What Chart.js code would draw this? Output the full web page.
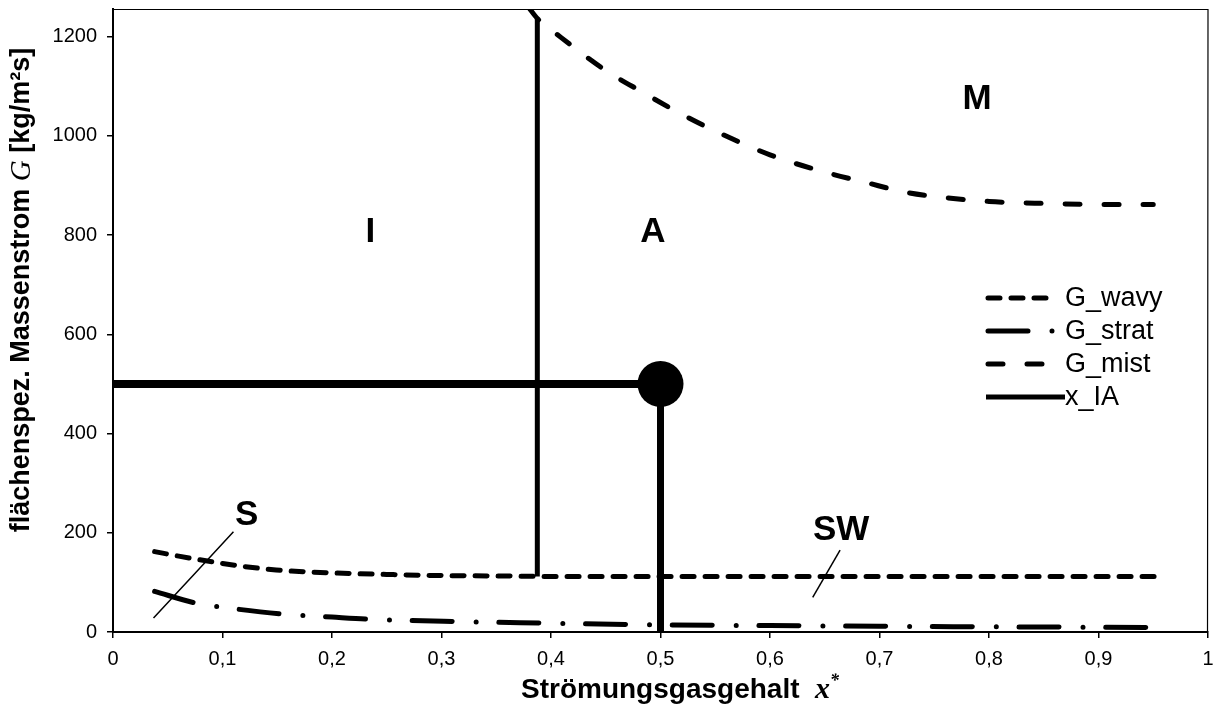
<!DOCTYPE html>
<html><head><meta charset="utf-8">
<script src="https://cdn.jsdelivr.net/npm/chart.js@4/dist/chart.umd.min.js"></script>
<style>html,body{margin:0;padding:0;background:#fff;overflow:hidden}canvas{display:block}</style>
</head><body>
<canvas id="c" width="1214" height="709"></canvas>
<script>
// ---- data ----
const seriesNames = ['G_wavy', 'G_strat', 'G_mist', 'x_IA'];

const wavyX = [0.038, 0.06, 0.089, 0.12, 0.149, 0.18, 0.216, 0.25, 0.292, 0.35, 0.4, 0.5, 0.6, 0.7, 0.8, 0.9, 0.955];
const wavyG = [162, 153, 142, 132, 125, 121, 118, 116, 114, 113, 112, 112, 112, 112, 112, 112, 112];

const stratX = [0.038, 0.076, 0.1, 0.155, 0.2, 0.232, 0.314, 0.393, 0.51, 0.6, 0.7, 0.8, 0.9, 0.945];
const stratG = [82, 58, 50, 36, 30, 26, 21, 18, 14, 13, 11.5, 10.5, 9.5, 9];

const mistX = [0.38, 0.3875, 0.406, 0.45, 0.483, 0.515, 0.55, 0.6, 0.652, 0.688, 0.723, 0.755, 0.8, 0.85, 0.9, 0.95];
const mistG = [1258, 1237, 1204, 1132, 1089, 1049, 1010, 962, 926, 906, 887, 877, 868, 864, 862, 862];

const xIAX = [0.3875, 0.3875];
const xIAG = [112, 1237];

const opX = [0, 0.5];          // operating point horizontal
const opG = [500, 500];
const opVertX = [0.5, 0.5];
const opVertG = [0, 500];
const pointX = [0.5];
const pointG = [500];

const sLineX = [0.037, 0.11];
const sLineG = [28, 202];
const swLineX = [0.639, 0.664];
const swLineG = [70, 165];

const regionNames = ['I', 'A', 'M', 'S', 'SW'];
const regionX = [0.235, 0.493, 0.789, 0.122, 0.665];
const regionG = [805, 805, 1073, 236, 204];

const xTicks = [0, 0.1, 0.2, 0.3, 0.4, 0.5, 0.6, 0.7, 0.8, 0.9, 1];
const yTicks = [0, 200, 400, 600, 800, 1000, 1200];

// ---- helpers ----
const pts = (xs, ys) => xs.map((x, i) => ({x, y: ys[i]}));
const SANS = '"Liberation Sans", Arial, sans-serif';
const SERIF = '"Liberation Serif", "Times New Roman", serif';

const styles = {
  G_wavy: {dash: [12, 11], width: 5},
  G_strat: {dash: [40, 24, 0, 22.7], width: 5},
  G_mist: {dash: [15, 24], width: 5},
  x_IA: {dash: [], width: 5}
};

const line = (label, data, st, extra) => Object.assign({
  label, data, type: 'line', borderColor: '#000', backgroundColor: '#000',
  borderWidth: st.width, borderDash: st.dash, borderCapStyle: 'round', borderJoinStyle: 'round',
  pointRadius: 0, pointHoverRadius: 0, fill: false, showLine: true,
  cubicInterpolationMode: 'monotone'
}, extra || {});

const datasets = [
  line(seriesNames[0], pts(wavyX, wavyG), styles.G_wavy),
  line(seriesNames[1], pts(stratX, stratG), styles.G_strat),
  line(seriesNames[2], pts(mistX, mistG), styles.G_mist),
  line(seriesNames[3], pts(xIAX, xIAG), styles.x_IA, {borderCapStyle: 'butt'}),
  line('op_h', pts(opX, opG), {dash: [], width: 8}, {borderCapStyle: 'butt'}),
  line('op_v', pts(opVertX, opVertG), {dash: [], width: 7}, {borderCapStyle: 'butt'}),
  line('op_pt', pts(pointX, pointG), {dash: [], width: 0}, {pointRadius: 23, showLine: false, pointBackgroundColor: '#000', pointBorderWidth: 0, clip: false}),
  line('s_line', pts(sLineX, sLineG), {dash: [], width: 1.5}, {borderCapStyle: 'butt'}),
  line('sw_line', pts(swLineX, swLineG), {dash: [], width: 1.5}, {borderCapStyle: 'butt'})
];

// ---- plugins ----
const decor = {
  id: 'decor',
  afterDraw(chart) {
    const ctx = chart.ctx, a = chart.chartArea;
    const xs = chart.scales.x, ys = chart.scales.y;
    ctx.save();
    // top and right frame
    ctx.strokeStyle = '#000'; ctx.lineWidth = 1.2;
    ctx.beginPath();
    ctx.moveTo(a.left, a.top + 0.5); ctx.lineTo(a.right, a.top + 0.5);
    ctx.lineTo(a.right - 0.5, a.bottom);
    ctx.stroke();

    // region labels
    ctx.fillStyle = '#000';
    ctx.font = 'bold 35px ' + SANS;
    ctx.textAlign = 'center'; ctx.textBaseline = 'middle';
    regionNames.forEach((t, i) => ctx.fillText(t, xs.getPixelForValue(regionX[i]), ys.getPixelForValue(regionG[i])));

    // legend
    const lx0 = 988, lx1 = 1050, tx = 1065, rowY = [298, 331, 364, 397];
    ctx.textAlign = 'left'; ctx.font = '27px ' + SANS;
    seriesNames.forEach((n, i) => {
      const st = styles[n];
      ctx.beginPath();
      ctx.setLineDash(st.dash);
      ctx.lineWidth = st.width;
      ctx.lineCap = n === 'x_IA' ? 'butt' : 'round';
      ctx.moveTo(n === 'x_IA' ? lx0 - 2 : lx0, rowY[i]);
      ctx.lineTo(n === 'x_IA' ? tx : lx1 + 6, rowY[i]);
      ctx.stroke();
      ctx.setLineDash([]);
      ctx.fillText(n, tx, rowY[i] + 1);
    });

    // x axis title
    const segsX = [
      {t: 'Strömungsgasgehalt  ', f: 'bold 28px ' + SANS, dy: 0},
      {t: 'x', f: 'bold italic 30px ' + SERIF, dy: 0},
      {t: '*', f: 'bold italic 18px ' + SERIF, dy: -9}
    ];
    drawSegs(ctx, segsX, 521, 690, false);

    // y axis title
    ctx.save();
    ctx.translate(22, 290);
    ctx.rotate(-Math.PI / 2);
    const segsY = [
      {t: 'flächenspez. Massenstrom ', f: 'bold 27px ' + SANS, dy: 0},
      {t: 'G', f: 'italic 29px ' + SERIF, dy: 0},
      {t: ' [kg/m²s]', f: 'bold 27px ' + SANS, dy: 0}
    ];
    drawSegs(ctx, segsY, 0, 0, true);
    ctx.restore();
    ctx.restore();
  }
};
function drawSegs(ctx, segs, px, cy, centered) {
  let w = 0;
  segs.forEach(s => { ctx.font = s.f; s.w = ctx.measureText(s.t).width; w += s.w; });
  let x = centered ? px - w / 2 : px;
  ctx.textAlign = 'left'; ctx.textBaseline = 'middle'; ctx.fillStyle = '#000';
  segs.forEach(s => { ctx.font = s.f; ctx.fillText(s.t, x, cy + s.dy); x += s.w; });
}

new Chart(document.getElementById('c'), {
  type: 'line',
  data: {datasets},
  options: {
    responsive: false, devicePixelRatio: 1, animation: false,
    layout: {autoPadding: false, padding: {left: 0, top: 9, right: 6, bottom: 0}},
    plugins: {legend: {display: false}, tooltip: {enabled: false}},
    events: [],
    scales: {
      x: {
        type: 'linear', min: 0, max: 1,
        afterBuildTicks: s => { s.ticks = xTicks.map(v => ({value: v})); },
        afterFit: s => { s.height = 77; s.paddingLeft = 0; s.paddingRight = 0; },
        ticks: {
          color: '#000', font: {family: SANS, size: 20}, padding: 9, maxRotation: 0,
          callback: v => String(Math.round(v * 10) / 10).replace('.', ',')
        },
        grid: {display: true, drawOnChartArea: false, drawTicks: true, tickLength: 6, color: '#000', lineWidth: 1.5},
        border: {display: true, color: '#000', width: 2}
      },
      y: {
        type: 'linear', min: 0, max: 1256,
        afterBuildTicks: s => { s.ticks = yTicks.map(v => ({value: v})); },
        afterFit: s => { s.width = 113; s.paddingTop = 0; s.paddingBottom = 0; },
        ticks: {color: '#000', font: {family: SANS, size: 20}, padding: 10, callback: v => String(v)},
        grid: {display: true, drawOnChartArea: false, drawTicks: true, tickLength: 6, color: '#000', lineWidth: 1.5},
        border: {display: true, color: '#000', width: 2}
      }
    }
  },
  plugins: [decor]
});
</script>
</body></html>
